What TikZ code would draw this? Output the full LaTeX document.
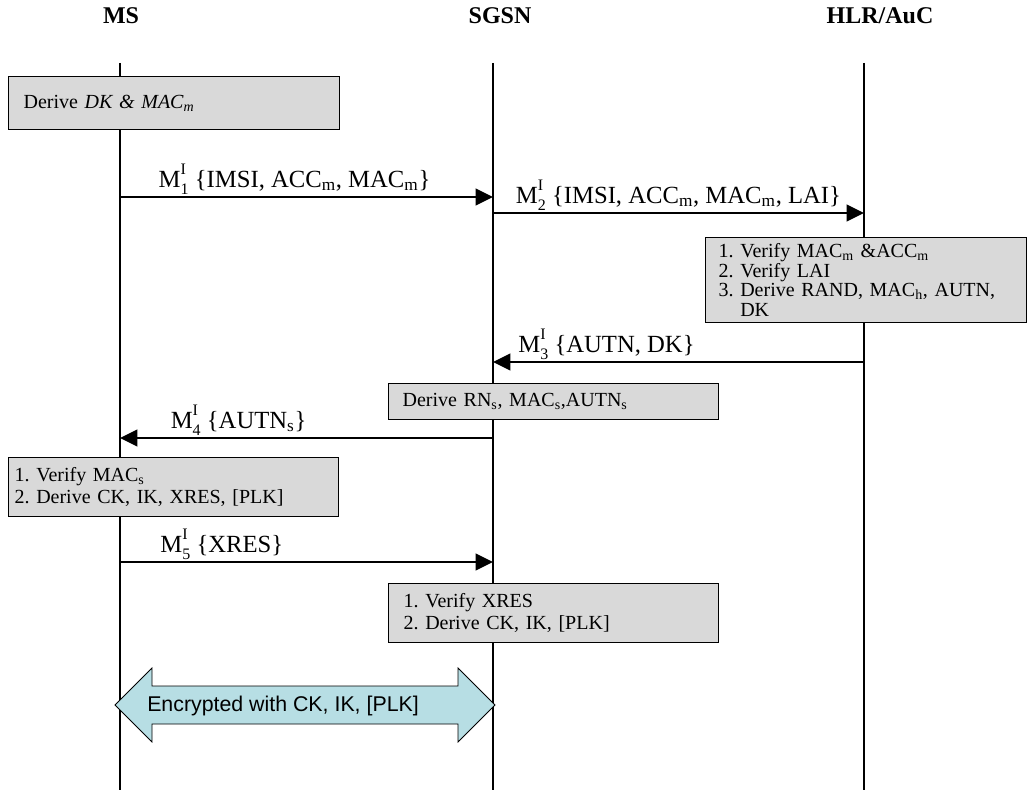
\documentclass[tikz,border=0pt]{standalone}
\usepackage{fontspec}
\setmainfont{Liberation Serif}
\newfontfamily\arialfont{Liberation Sans}
\usetikzlibrary{calc,arrows.meta}
\definecolor{boxgray}{RGB}{217,217,217}
\definecolor{enccyan}{RGB}{183,222,228}
\newcommand{\mI}[1]{M\rlap{\raisebox{.5em}{\fontsize{12}{12}\selectfont I}}\raisebox{-.3em}{\fontsize{12}{12}\selectfont #1}}

\begin{document}
\begin{tikzpicture}[x=0.75pt,y=-0.75pt,
    head/.style={font=\fontsize{18}{20}\selectfont\bfseries,anchor=base},
    life/.style={line width=1.3pt},
    msg/.style={line width=1.3pt,-{Triangle[length=13pt,width=12.5pt]}},
    lbl/.style={font=\fontsize{18.5}{20}\selectfont,anchor=base,yshift=7.5pt,inner sep=0pt},
    box/.style={draw,line width=0.9pt,fill=boxgray,anchor=north west,align=left,inner ysep=0pt,font=\fontsize{15}{17}\selectfont}]
    \useasboundingbox (0,0) rectangle (1027,795);

    \node at (121,24) [head] (hms) {MS};
    \node at (500,24) [head] (hsgsn) {SGSN};
    \node at (880,24) [head] (hhlr) {HLR/AuC};

    \coordinate (ms) at (120,63);   \coordinate (msb) at (120,790);
    \coordinate (sgsn) at (493,63); \coordinate (sgsnb) at (493,790);
    \coordinate (hlr) at (864,63);  \coordinate (hlrb) at (864,790);
    \path (0,197) coordinate (y1) (0,213) coordinate (y2) (0,362) coordinate (y3)
          (0,438) coordinate (y4) (0,562) coordinate (y5) (0,705) coordinate (y6);

    \draw[life] (ms) -- (msb);
    \draw[life] (sgsn) -- (sgsnb);
    \draw[life] (hlr) -- (hlrb);

    \node at (8,76) [box,inner xsep=11.25pt,text width=225.75pt,minimum height=39.75pt] (derivedk)
        {Derive \textit{DK \& MAC\textsubscript{m}}};
    \draw[msg] (ms |- y1) -- node[lbl,pos=.468]{\mI{1} \{IMSI, ACC\textsubscript{m}, MAC\textsubscript{m}\}} (sgsn |- y1);
    \draw[msg] (sgsn |- y2) -- node[lbl,pos=.5]{\mI{2} \{IMSI, ACC\textsubscript{m}, MAC\textsubscript{m}, LAI\}} (hlr |- y2);
    \node at (705,237) [box,inner xsep=9.75pt,text width=221.25pt,minimum height=63.75pt,
        font=\fontsize{15}{14.75}\selectfont] (verifymac)
        {1.~Verify MAC\textsubscript{m} \&ACC\textsubscript{m}\\2.~Verify LAI\\3.~Derive RAND, MAC\textsubscript{h}, AUTN,\\\phantom{3.~}DK};
    \draw[msg] (hlr |- y3) -- node[lbl,pos=.694]{\mI{3} \{AUTN, DK\}} (sgsn |- y3);
    \node at (388,383) [box,inner xsep=10.5pt,text width=226.5pt,minimum height=27pt] (derivern)
        {Derive RN\textsubscript{s}, MAC\textsubscript{s},AUTN\textsubscript{s}};
    \draw[msg] (sgsn |- y4) -- node[lbl,pos=.682]{\mI{4} \{AUTN\textsubscript{s}\}} (ms |- y4);
    \node at (8,457) [box,inner xsep=4.5pt,text width=238.5pt,minimum height=44.25pt] (verifymacs)
        {1.\ Verify MAC\textsubscript{s}\\2.\ Derive CK, IK, XRES, [PLK]};
    \draw[msg] (ms |- y5) -- node[lbl,pos=.273]{\mI{5} \{XRES\}} (sgsn |- y5);
    \node at (388,583) [box,inner xsep=11.25pt,text width=225pt,minimum height=44.25pt] (verifyxres)
        {1.\ Verify XRES\\2.\ Derive CK, IK, [PLK]};

    \coordinate (encl) at ($(ms |- y6)+(-5,0)$);
    \coordinate (encr) at ($(sgsn |- y6)+(2,0)$);
    \draw[fill=enccyan,line width=0.6pt] (encl) -- ++(37,-37) -- ++(0,18) -- ($(encr)+(-37,-19)$)
        -- ++(0,-18) -- (encr) -- ++(-37,37) -- ++(0,-18) -- ($(encl)+(37,19)$) -- ++(0,18) -- cycle;
    \node at ($(encl)+(32,3)$) [anchor=mid west,inner sep=0pt,font=\arialfont\fontsize{16}{18}\selectfont] (enc)
        {Encrypted with CK, IK, [PLK]};
\end{tikzpicture}
\end{document}
